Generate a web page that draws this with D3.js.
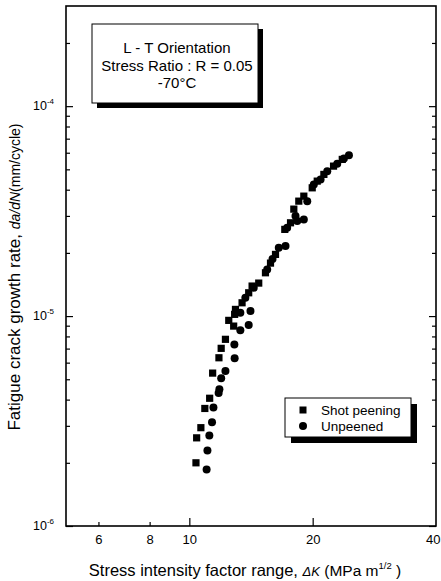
<!DOCTYPE html>
<html>
<head>
<meta charset="utf-8">
<script src="https://cdn.jsdelivr.net/npm/d3@7"></script>
<style>
  html, body { margin: 0; padding: 0; background: #fff; }
  svg { display: block; font-family: "Liberation Sans", Arial, sans-serif; }
</style>
</head>
<body>
<svg id="chart" width="441" height="581"></svg>
<script>
// Fatigue crack growth rate vs stress intensity factor range (log-log)
const shotPeeningDK = [10.38, 10.42, 10.67, 10.91, 11.21, 11.40, 11.81, 11.96, 12.25, 12.48,
  12.83, 12.90, 12.96, 13.45, 13.96, 14.23, 14.77, 15.34, 15.78, 16.23,
  17.10, 17.66, 17.99, 18.50, 19.03, 19.95, 20.52, 21.30, 22.49, 23.62];
const shotPeeningRate = [2.00e-6, 2.63e-6, 2.94e-6, 3.63e-6, 4.06e-6, 5.35e-6, 6.33e-6, 7.02e-6, 7.75e-6, 9.54e-6,
  8.96e-6, 1.019e-5, 1.076e-5, 1.157e-5, 1.291e-5, 1.39e-5, 1.436e-5, 1.608e-5, 1.788e-5, 1.967e-5,
  2.588e-5, 2.782e-5, 3.232e-5, 3.528e-5, 3.727e-5, 4.083e-5, 4.394e-5, 4.73e-5, 5.18e-5, 5.576e-5];

const unpeenedDK = [11.02, 11.07, 11.19, 11.36, 11.45, 11.79, 11.84, 11.96, 12.25, 12.90,
  12.88, 13.32, 13.96, 13.32, 14.10, 13.70, 14.36, 15.49, 15.96, 16.53,
  17.17, 17.33, 18.34, 19.03, 18.16, 19.40, 20.13, 20.91, 21.71, 22.96,
  23.84, 24.52];
const unpeenedRate = [1.858e-6, 2.29e-6, 2.70e-6, 3.12e-6, 3.67e-6, 4.30e-6, 4.48e-6, 5.05e-6, 5.47e-6, 6.29e-6,
  7.33e-6, 8.55e-6, 9.06e-6, 1.037e-5, 1.056e-5, 1.222e-5, 1.364e-5, 1.669e-5, 1.868e-5, 2.114e-5,
  2.154e-5, 2.634e-5, 2.834e-5, 2.887e-5, 2.994e-5, 3.528e-5, 4.238e-5, 4.477e-5, 4.903e-5, 5.312e-5,
  5.636e-5, 5.844e-5];

const xTickLabels = [6, 8, 10, 20, 40];
const xMajorTicks = [10, 20];
const xMinorTicks = [6, 8];
const yDecades = [1e-6, 1e-5, 1e-4];
const yDecadeExponents = ["-6", "-5", "-4"];
const legendLabels = ["Shot peening", "Unpeened"];
const noteLines = ["L - T Orientation", "Stress Ratio : R = 0.05", "-70°C"];

const svg = d3.select("#chart");
const L = 66, R = 436, T = 6, B = 526;

const x = d3.scaleLog().domain([5, 40]).range([L, R]);
const y = d3.scaleLog().domain([1e-6, 3e-4]).range([B, T]);

// minor y ticks: 2..9 within each decade
const yMinor = [];
[1e-6, 1e-5, 1e-4].forEach(d => {
  for (let k = 2; k <= 9; k++) { const v = d * k; if (v <= 3e-4) yMinor.push(v); }
});

// x axis ticks (inward)
svg.append("g").attr("transform", `translate(0,${B})`)
  .call(d3.axisBottom(x).tickValues(xMajorTicks).tickSize(-8).tickFormat(""))
  .call(g => g.select(".domain").remove());
svg.append("g").attr("transform", `translate(0,${B})`)
  .call(d3.axisBottom(x).tickValues(xMinorTicks).tickSize(-4).tickFormat(""))
  .call(g => g.select(".domain").remove());
svg.append("g").attr("transform", `translate(0,${B})`)
  .call(d3.axisBottom(x).tickValues(xTickLabels).tickSize(0).tickPadding(9).tickFormat(d3.format("d")))
  .call(g => g.select(".domain").remove())
  .call(g => g.selectAll("text").attr("font-size", 13).attr("fill", "#000")
    .attr("font-family", "'Liberation Sans', Arial, sans-serif"))
  // the last label sits at the right edge; keep it inside the page
  .call(g => g.selectAll(".tick").filter(d => d === 40).select("text")
    .attr("text-anchor", "end").attr("x", 4));

// y axis ticks (left and right, inward)
[[L, d3.axisLeft], [R, d3.axisRight]].forEach(([pos, axisFn]) => {
  svg.append("g").attr("transform", `translate(${pos},0)`)
    .call(axisFn(y).tickValues(yDecades).tickSize(-7).tickFormat(""))
    .call(g => g.select(".domain").remove());
  svg.append("g").attr("transform", `translate(${pos},0)`)
    .call(axisFn(y).tickValues(yMinor).tickSize(-4).tickFormat(""))
    .call(g => g.select(".domain").remove());
});

// y decade labels with superscript exponents
const yl = svg.append("g").attr("font-size", 12.5).attr("fill", "#000");
yDecades.forEach((v, i) => {
  const t = yl.append("text").attr("x", 54).attr("y", y(v) + 4).attr("text-anchor", "end");
  t.append("tspan").text("10");
  t.append("tspan").attr("dy", -6).attr("font-size", 8).text(yDecadeExponents[i]);
});

// frame
svg.append("rect").attr("x", L).attr("y", T).attr("width", R - L).attr("height", B - T)
  .attr("fill", "none").attr("stroke", "#000").attr("stroke-width", 1.6);

svg.selectAll(".tick line").attr("stroke", "#000").attr("stroke-width", 1.2);

// data
const sq = 7.2;
svg.append("g").selectAll("rect").data(d3.range(shotPeeningDK.length)).join("rect")
  .attr("x", i => x(shotPeeningDK[i]) - sq / 2)
  .attr("y", i => y(shotPeeningRate[i]) - sq / 2)
  .attr("width", sq).attr("height", sq).attr("fill", "#000");
svg.append("g").selectAll("circle").data(d3.range(unpeenedDK.length)).join("circle")
  .attr("cx", i => x(unpeenedDK[i]))
  .attr("cy", i => y(unpeenedRate[i]))
  .attr("r", 4).attr("fill", "#000");

// condition note box with drop shadow
const nb = { x: 92, y: 24, w: 166, h: 79 };
svg.append("rect").attr("x", nb.x + 5).attr("y", nb.y + 5).attr("width", nb.w).attr("height", nb.h).attr("fill", "#000");
svg.append("rect").attr("x", nb.x).attr("y", nb.y).attr("width", nb.w).attr("height", nb.h)
  .attr("fill", "#fff").attr("stroke", "#000").attr("stroke-width", 1);
const noteY = [53, 71, 88];
svg.append("g").selectAll("text").data(noteLines).join("text")
  .attr("x", nb.x + nb.w / 2 + 2).attr("y", (d, i) => noteY[i])
  .attr("text-anchor", "middle").attr("font-size", 15).attr("fill", "#000").text(d => d);

// legend box with drop shadow
const lb = { x: 285, y: 398, w: 126, h: 39 };
svg.append("rect").attr("x", lb.x + 6).attr("y", lb.y + 6).attr("width", lb.w).attr("height", lb.h).attr("fill", "#000");
svg.append("rect").attr("x", lb.x).attr("y", lb.y).attr("width", lb.w).attr("height", lb.h)
  .attr("fill", "#fff").attr("stroke", "#000").attr("stroke-width", 1);
svg.append("rect").attr("x", 303 - 3.5).attr("y", 410 - 3.5).attr("width", 7).attr("height", 7).attr("fill", "#000");
svg.append("circle").attr("cx", 303).attr("cy", 426).attr("r", 4).attr("fill", "#000");
svg.append("g").selectAll("text").data(legendLabels).join("text")
  .attr("x", 321).attr("y", (d, i) => 415 + i * 16)
  .attr("font-size", 13.5).attr("fill", "#000").text(d => d);

// x axis title
const xt = svg.append("text").attr("x", 245).attr("y", 576).attr("text-anchor", "middle")
  .attr("font-size", 16.5).attr("fill", "#000");
xt.append("tspan").text("Stress intensity factor range,  ");
xt.append("tspan").attr("font-style", "italic").attr("font-size", 13).text("ΔK");
xt.append("tspan").attr("font-size", 15.5).text(" (MPa m");
xt.append("tspan").attr("font-size", 9.5).attr("dy", -7).text("1/2");
xt.append("tspan").attr("font-size", 15.5).attr("dy", 7).text("  )");

// y axis title
const ytl = svg.append("text").attr("transform", "translate(20,277) rotate(-90)")
  .attr("text-anchor", "middle").attr("font-size", 17).attr("fill", "#000");
ytl.append("tspan").text("Fatigue crack growth rate,  ");
ytl.append("tspan").attr("font-style", "italic").attr("font-size", 14).text("da/dN");
ytl.append("tspan").attr("font-size", 14).text("(mm/cycle)");
</script>
</body>
</html>
